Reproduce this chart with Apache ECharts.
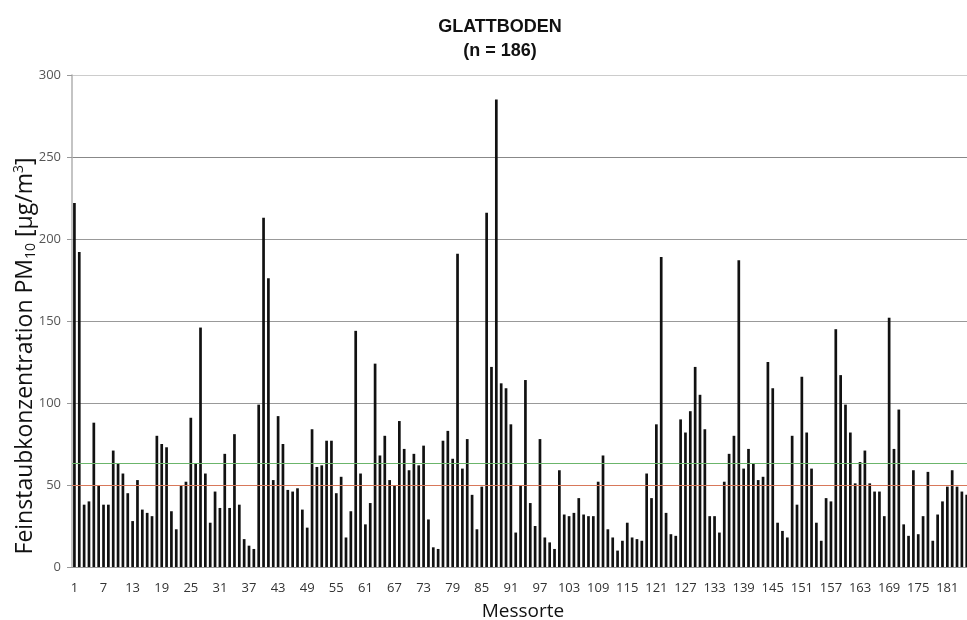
<!DOCTYPE html>
<html>
<head>
<meta charset="utf-8">
<title>Glattboden</title>
<script src="https://cdn.jsdelivr.net/npm/echarts@6/dist/echarts.min.js"></script>
<style>
  html, body { margin: 0; padding: 0; background: #fff; }
  #chart { width: 967px; height: 620px; }
</style>
</head>
<body>
<div id="chart"></div>
<script>
// Messorte 1..186
var messorte = Array.from({ length: 186 }, function (v, i) { return String(i + 1); });

// PM10 values per Messort
var pm10 = [
  222, 192, 38, 40, 88, 50, 38, 38, 71, 63,
  57, 45, 28, 53, 35, 33, 31, 80, 75, 73,
  34, 23, 50, 52, 91, 63, 146, 57, 27, 46,
  36, 69, 36, 81, 38, 17, 13, 11, 99, 213,
  176, 53, 92, 75, 47, 46, 48, 35, 24, 84,
  61, 62, 77, 77, 45, 55, 18, 34, 144, 57,
  26, 39, 124, 68, 80, 53, 50, 89, 72, 59,
  69, 62, 74, 29, 12, 11, 77, 83, 66, 191,
  60, 78, 44, 23, 49, 216, 122, 285, 112, 109,
  87, 21, 50, 114, 39, 25, 78, 18, 15, 11,
  59, 32, 31, 33, 42, 32, 31, 31, 52, 68,
  23, 18, 10, 16, 27, 18, 17, 16, 57, 42,
  87, 189, 33, 20, 19, 90, 82, 95, 122, 105,
  84, 31, 31, 21, 52, 69, 80, 187, 60, 72,
  63, 53, 55, 125, 109, 27, 22, 18, 80, 38,
  116, 82, 60, 27, 16, 42, 40, 145, 117, 99,
  82, 51, 64, 71, 51, 46, 46, 31, 152, 72,
  96, 26, 19, 59, 20, 31, 58, 16, 32, 40,
  49, 59, 49, 46, 44, 50
];

// reference lines (red = 50, green = mean)
var limitRed = [50];
var limitGreen = [63];

var myChart = echarts.init(document.getElementById("chart"));

var option = {
  animation: false,
  backgroundColor: "#fff",
  title: {
    text: "GLATTBODEN\n(n = 186)",
    left: 495,
    top: 10,
    textAlign: "center",
    textStyle: {
      fontFamily: "Liberation Sans",
      fontSize: 18,
      fontWeight: "bold",
      lineHeight: 24,
      color: "#111",
    },
  },
  grid: {
    left: 72,
    top: 75,
    width: 902, // runs off the right edge like the original
    height: 492,
    containLabel: false,
    outerBoundsMode: "none",
  },
  xAxis: {
    type: "category",
    data: messorte,
    name: "Messorte",
    nameLocation: "middle",
    nameGap: 35,
    nameTextStyle: {
      fontFamily: "Open Sans",
      fontSize: 19,
      color: "#111",
    },
    axisLine: { lineStyle: { color: "#999", width: 1 } },
    axisTick: { interval: 0, length: 5, lineStyle: { color: "#999" } },
    axisLabel: {
      interval: 5,
      margin: 15,
      fontFamily: "Open Sans",
      fontSize: 13,
      color: "#333",
    },
  },
  yAxis: {
    type: "value",
    min: 0,
    max: 300,
    interval: 50,
    name: "{a|Feinstaubkonzentration PM}{sub|10}{a| [µg/m}{sup|3}{a|]}",
    nameLocation: "middle",
    nameRotate: 90,
    nameGap: 34,
    nameMoveOverlap: false,
    nameTextStyle: {
      padding: [0, 70, 0, 0], // push text a bit down
      rich: {
        a: { fontFamily: "Open Sans", fontSize: 23, color: "#111", lineHeight: 26 },
        sub: { fontFamily: "Open Sans", fontSize: 14, color: "#111", lineHeight: 12, verticalAlign: "bottom" },
        sup: { fontFamily: "Open Sans", fontSize: 14, color: "#111", lineHeight: 12, verticalAlign: "top" },
      },
    },
    axisLine: { show: true, lineStyle: { color: "#b0b0b0", width: 1.5 } },
    axisTick: { show: true, length: 5, lineStyle: { color: "#999" } },
    axisLabel: {
      margin: 11,
      fontFamily: "Open Sans",
      fontSize: 13,
      color: "#555",
    },
    splitLine: {
      show: true,
      lineStyle: {
        // 0, 50 (red limit), 100 ... 300
        color: ["#999", "#d8785a", "#999", "#999", "#999", "#888", "#ccc"],
        width: 1,
      },
    },
  },
  series: [
    {
      type: "bar",
      data: pm10,
      barWidth: 2.7,
      itemStyle: { color: "#111" },
      markLine: {
        silent: true,
        symbol: "none",
        label: { show: false },
        lineStyle: { type: "solid", width: 1 },
        data: [
          { yAxis: limitRed[0], lineStyle: { color: "#d8785a" } },
          { yAxis: limitGreen[0], lineStyle: { color: "#6bb56b" } },
        ],
      },
    },
  ],
};

myChart.setOption(option);
</script>
</body>
</html>
